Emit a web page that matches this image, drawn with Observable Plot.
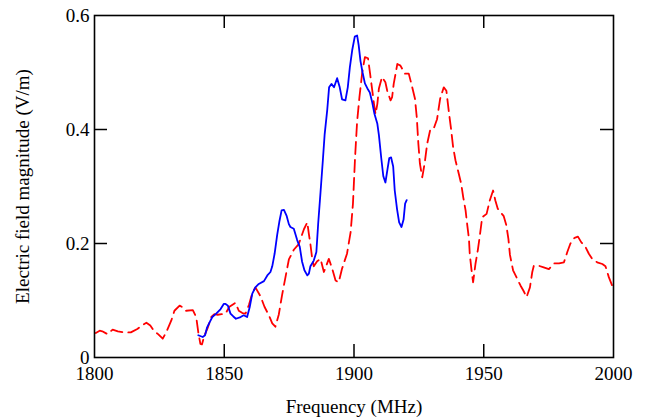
<!DOCTYPE html>
<html>
<head>
<meta charset="utf-8">
<script src="https://cdn.jsdelivr.net/npm/d3@7"></script>
<script src="https://cdn.jsdelivr.net/npm/@observablehq/plot@0.6"></script>
<style>
  html, body { margin: 0; padding: 0; background: white; }
</style>
</head>
<body>
<div id="chart"></div>
<script>
// Tick values
const xTicks = [1800, 1850, 1900, 1950, 2000];
const yTicks = [0, 0.2, 0.4, 0.6];
const xInnerTicks = [1850, 1900, 1950];
const yInnerTicks = [0.2, 0.4];

// Dashed red series
const redFreq = [1800.5,1802,1803,1805,1807,1809,1811.5,1814,1816.5,1818.5,1820,1821.5,1823,1824.5,1826.3,1827.6,1829.6,1830.8,1832.8,1834,1835.3,1837.9,1839.2,1840,1840.8,1841.4,1842.4,1843.7,1845,1846.2,1847.5,1849,1850.5,1852,1854.3,1855.6,1857,1858.2,1859.5,1860.8,1862,1864,1865.5,1867.2,1868.5,1869.7,1871,1872.3,1873.6,1874.9,1876.8,1878.7,1880.7,1882,1882.6,1883.2,1883.9,1884.5,1885.8,1887.1,1888.4,1890.3,1891.6,1892.9,1894.1,1895.4,1897.3,1898.7,1899.6,1900.4,1901.2,1902.1,1903.2,1904.2,1905.4,1906.2,1907,1907.7,1908.3,1909,1909.6,1910.8,1912.1,1912.8,1914.1,1914.7,1915.3,1916.7,1917.9,1919.6,1921.1,1922.4,1923.5,1924.2,1924.8,1925.4,1926.3,1927.2,1928.2,1929.3,1930.6,1932,1933.2,1934.6,1935.6,1936.5,1937.4,1938.2,1939.1,1940.4,1941.3,1942.1,1943,1943.6,1944.3,1944.6,1945.3,1945.9,1946.8,1947.7,1948.5,1949.4,1951.1,1952.3,1953.6,1954.5,1955.4,1957.7,1958.7,1959.5,1960.1,1961.3,1962.9,1964.2,1965.2,1966.5,1967.8,1968.7,1969.3,1971.2,1973.1,1975.1,1977,1979,1980.9,1982.2,1983.4,1985,1986.3,1987.6,1989.2,1990.5,1991.8,1993.7,1995.7,1996.9,1998.2,1999.5];
const redVal = [0.043,0.047,0.046,0.041,0.049,0.046,0.044,0.044,0.050,0.057,0.061,0.056,0.046,0.041,0.033,0.044,0.065,0.082,0.091,0.088,0.082,0.083,0.071,0.044,0.024,0.023,0.039,0.053,0.071,0.076,0.075,0.076,0.077,0.089,0.096,0.082,0.078,0.077,0.092,0.113,0.123,0.107,0.089,0.074,0.060,0.054,0.075,0.110,0.141,0.172,0.189,0.199,0.225,0.237,0.217,0.199,0.173,0.160,0.169,0.173,0.150,0.173,0.156,0.135,0.132,0.156,0.182,0.22,0.27,0.35,0.414,0.457,0.501,0.527,0.525,0.498,0.470,0.445,0.427,0.445,0.472,0.492,0.483,0.468,0.451,0.457,0.480,0.515,0.512,0.498,0.498,0.475,0.454,0.421,0.375,0.340,0.316,0.340,0.375,0.398,0.400,0.418,0.454,0.474,0.468,0.433,0.401,0.369,0.346,0.322,0.305,0.281,0.258,0.234,0.208,0.182,0.153,0.132,0.164,0.188,0.214,0.246,0.252,0.275,0.293,0.275,0.261,0.248,0.232,0.208,0.180,0.153,0.138,0.126,0.118,0.106,0.123,0.150,0.161,0.161,0.158,0.155,0.165,0.165,0.167,0.185,0.200,0.210,0.212,0.202,0.194,0.182,0.173,0.167,0.164,0.160,0.141,0.126];

// Solid blue series
const blueFreq = [1840,1841.7,1842.6,1843.4,1844.4,1845.4,1846.9,1848.6,1849.8,1850.5,1851.4,1852.4,1853.5,1854.5,1856.3,1857.5,1858.8,1859.8,1860.8,1862,1863.3,1865.3,1866.6,1867.8,1868.5,1869.4,1870.4,1871.3,1872.1,1873,1874,1874.9,1875.5,1876.8,1878.1,1879.1,1880,1880.9,1882,1882.6,1883.2,1884.5,1885.5,1886.2,1887.1,1888,1888.7,1889.7,1890.4,1891.3,1892.3,1893.5,1894.5,1895.4,1896.7,1897.6,1898.4,1899.3,1900.3,1901.2,1901.8,1902.5,1903.3,1904.2,1905.4,1906.1,1907,1907.9,1909,1909.6,1910.5,1911.3,1912.1,1912.9,1913.6,1914.3,1915.1,1915.7,1916.6,1917.4,1918.3,1919.1,1919.7,1920.3];
const blueVal = [0.039,0.036,0.039,0.053,0.062,0.071,0.077,0.085,0.094,0.094,0.091,0.077,0.072,0.068,0.071,0.074,0.071,0.088,0.112,0.123,0.129,0.134,0.144,0.150,0.160,0.182,0.215,0.240,0.258,0.259,0.249,0.234,0.229,0.226,0.206,0.194,0.168,0.153,0.144,0.147,0.160,0.170,0.185,0.235,0.290,0.346,0.392,0.435,0.474,0.480,0.474,0.490,0.474,0.453,0.451,0.474,0.509,0.539,0.563,0.565,0.548,0.520,0.500,0.481,0.470,0.465,0.448,0.427,0.410,0.390,0.350,0.318,0.307,0.330,0.350,0.351,0.335,0.293,0.260,0.237,0.229,0.242,0.270,0.276];

const red = redFreq.map((f, i) => ({f, v: redVal[i]}));
const blue = blueFreq.map((f, i) => ({f, v: blueVal[i]}));

// tick lengths expressed in data units (≈13px)
const tY = 0.6 * 13 / 342;
const tX = 200 * 13 / 519;

const chart = Plot.plot({
  width: 655,
  height: 419,
  marginLeft: 94,
  marginRight: 42,
  marginTop: 15,
  marginBottom: 62,
  style: {
    fontFamily: "'Liberation Serif', 'Times New Roman', serif",
    fontSize: "19px",
    color: "black",
    background: "white",
    overflow: "visible"
  },
  x: {domain: [1800, 2000], ticks: xTicks, tickFormat: d => String(d), tickSize: 0, tickPadding: 9, label: null},
  y: {domain: [0, 0.6], ticks: yTicks, tickFormat: d => String(d), tickSize: 0, tickPadding: 5, label: null},
  marks: [
    Plot.line(red, {x: "f", y: "v", stroke: "#ff0000", strokeWidth: 1.8, strokeDasharray: "12,6", curve: "linear"}),
    Plot.line(blue, {x: "f", y: "v", stroke: "#0000ff", strokeWidth: 1.8, curve: "linear"}),
    Plot.ruleX(xInnerTicks, {x: d => d, y1: 0, y2: tY, stroke: "black", strokeWidth: 1.5}),
    Plot.ruleX(xInnerTicks, {x: d => d, y1: 0.6 - tY, y2: 0.6, stroke: "black", strokeWidth: 1.5}),
    Plot.ruleY(yInnerTicks, {y: d => d, x1: 1800, x2: 1800 + tX, stroke: "black", strokeWidth: 1.5}),
    Plot.ruleY(yInnerTicks, {y: d => d, x1: 2000 - tX, x2: 2000, stroke: "black", strokeWidth: 1.5}),
    Plot.frame({stroke: "black", strokeWidth: 1.6}),
    Plot.text(["Frequency (MHz)"], {frameAnchor: "bottom", dy: 49, lineAnchor: "middle", textAnchor: "middle", text: d => d, fill: "black"}),
    Plot.text(["Electric field magnitude (V/m)"], {frameAnchor: "left", dx: -72, rotate: -90, lineAnchor: "middle", textAnchor: "middle", text: d => d, fill: "black"})
  ]
});
document.getElementById("chart").appendChild(chart);
</script>
</body>
</html>
